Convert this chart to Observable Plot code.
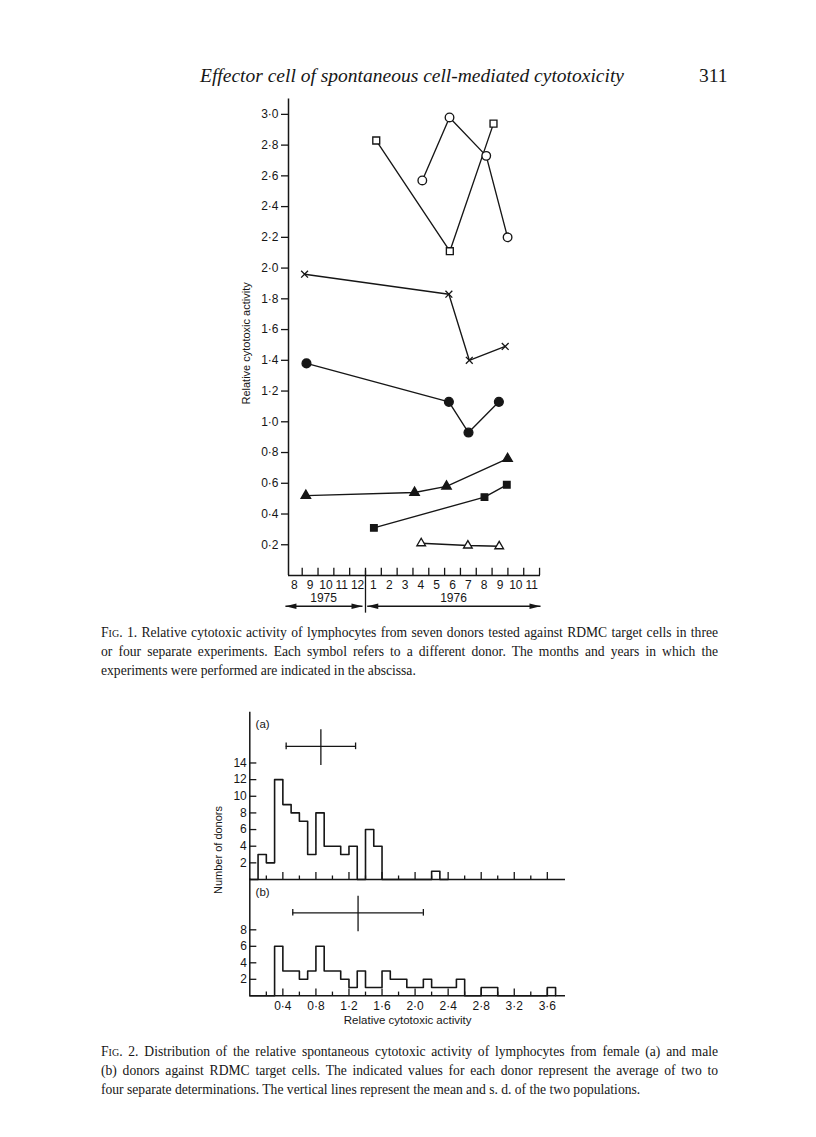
<!DOCTYPE html>
<html><head><meta charset="utf-8">
<script src="https://cdn.jsdelivr.net/npm/d3@7"></script>
<script src="https://cdn.jsdelivr.net/npm/@observablehq/plot@0.6"></script>
<style>
body{margin:0;background:#fff;}
#page{position:relative;width:816px;height:1137px;background:#fff;overflow:hidden;font-family:"Liberation Serif",serif;color:#161616;}
.abs{position:absolute;}
.cap{position:absolute;left:101px;width:617px;font-size:13.6px;line-height:19px;}
.cap .j{text-align:justify;text-align-last:justify;}
.sc{font-variant:small-caps;}
.fig{position:absolute;}
.ylab{position:absolute;font-family:"Liberation Sans",sans-serif;font-size:11px;transform:translate(-50%,-50%) rotate(-90deg);white-space:nowrap;}
</style></head>
<body><div id="page">
<div class="abs" style="left:200px;top:65px;font-size:19.5px;font-style:italic;white-space:nowrap;">Effector cell of spontaneous cell-mediated cytotoxicity</div>
<div class="abs" style="left:699px;top:65px;font-size:19.5px;">311</div>
<div id="fig1" class="fig" style="left:200px;top:90px;"></div>
<div class="cap" style="top:623px;">
<div class="j"><span class="sc">Fig</span>. 1. Relative cytotoxic activity of lymphocytes from seven donors tested against RDMC target cells in three</div>
<div class="j">or four separate experiments. Each symbol refers to a different donor. The months and years in which the</div>
<div>experiments were performed are indicated in the abscissa.</div>
</div>
<div id="fig2a" class="fig" style="left:200px;top:700px;"></div>
<div id="fig2b" class="fig" style="left:200px;top:870px;"></div>
<div class="ylab" style="left:218px;top:850px;">Number of donors</div>
<div class="cap" style="top:1042px;">
<div class="j"><span class="sc">Fig</span>. 2. Distribution of the relative spontaneous cytotoxic activity of lymphocytes from female (a) and male</div>
<div class="j">(b) donors against RDMC target cells. The indicated values for each donor represent the average of two to</div>
<div>four separate determinations. The vertical lines represent the mean and s. d. of the two populations.</div>
</div>
</div>
<script>
// ---------- Fig. 1 data (x = month index: 8 = Aug 1975, 13 = Jan 1976, 23 = Nov 1976) ----------
const openSquareX = [13.18, 17.83, 20.59];
const openSquareY = [2.83, 2.11, 2.94];
const openCircleX = [16.09, 17.81, 20.13, 21.48];
const openCircleY = [2.57, 2.98, 2.73, 2.20];
const crossX = [8.65, 17.77, 19.06, 21.33];
const crossY = [1.96, 1.83, 1.40, 1.49];
const filledCircleX = [8.77, 17.77, 19.01, 20.93];
const filledCircleY = [1.38, 1.13, 0.93, 1.13];
const filledTriangleX = [8.73, 15.60, 17.62, 21.48];
const filledTriangleY = [0.52, 0.54, 0.58, 0.76];
const filledSquareX = [13.03, 20.02, 21.43];
const filledSquareY = [0.31, 0.51, 0.59];
const openTriangleX = [16.02, 18.97, 20.95];
const openTriangleY = [0.21, 0.195, 0.19];

const monthPositions = [8,9,10,11,12,13,14,15,16,17,18,19,20,21,22,23];
const monthLabels = ["8","9","10","11","12","1","2","3","4","5","6","7","8","9","10","11"];
const yTicks1 = [0.2,0.4,0.6,0.8,1.0,1.2,1.4,1.6,1.8,2.0,2.2,2.4,2.6,2.8,3.0];
const yearNames = ["1975","1976"];
const yearCenters = [9.85, 18.06];
const yearStart = [7.44, 12.61];
const yearEnd = [12.31, 23.56];

// ---------- Fig. 2 data (counts per 0.1-wide bin starting at 0.0) ----------
const femaleCounts = [0,3,2,12,9,8,7,3,8,4,4,3,4,0,6,4,0,0,0,0,0,0,1,0];
const maleCounts = [0,0,0,6,3,3,2,3,6,3,3,2,1,3,1,1,3,2,2,1,1,2,1,1,1,2,0,0,1,1,0,0,0,0,0,0,1];
const femaleMean = 0.86, femaleSD = 0.42;
const maleMean = 1.31, maleSD = 0.79;
const yTicksA = [2,4,6,8,10,12,14];
const yTicksB = [2,4,6,8];
const xLabelTicks2 = [0.4,0.8,1.2,1.6,2.0,2.4,2.8,3.2,3.6];
const xMinorTicks2 = [0.2,0.4,0.6,0.8,1.0,1.2,1.4,1.6,1.8,2.0,2.2,2.4,2.6,2.8,3.0,3.2,3.4,3.6];

const fmt = d => d.toFixed(1).replace(".", "·");
const ink = "#161616";
const style = {background: "transparent", fontFamily: "Liberation Sans, sans-serif", fontSize: "11.5px", overflow: "visible", color: ink};

const zip = (xs, ys) => xs.map((x, i) => ({x, y: ys[i]}));

const arrowHead = {draw(ctx) { ctx.moveTo(0, 0); ctx.lineTo(-11, -2.8); ctx.lineTo(-11, 2.8); ctx.closePath(); }};

function series(xs, ys, symbol, fill, r) {
  const d = zip(xs, ys);
  return [
    Plot.line(d, {x: "x", y: "y", stroke: ink, strokeWidth: 1.35}),
    Plot.dot(d, {x: "x", y: "y", symbol, fill, stroke: ink, strokeWidth: 1.35, r})
  ];
}

const xMin1 = 7.634, xMax1 = 23.56;
const boundaries = monthPositions.map(m => m + 0.5);
const fig1 = Plot.plot({
  width: 360, height: 540,
  marginLeft: 88, marginRight: 20, marginTop: 8.5, marginBottom: 55,
  x: {domain: [xMin1, xMax1]},
  y: {domain: [0, 3.1]},
  style,
  marks: [
    Plot.ruleX([xMin1], {stroke: ink, strokeWidth: 1.5}),
    Plot.ruleY([0], {stroke: ink, strokeWidth: 1.5}),
    Plot.axisY({ticks: yTicks1, tickFormat: fmt, tickSize: 7, tickPadding: 3, label: null, strokeWidth: 1.3, fontSize: 12}),
    Plot.axisX({ticks: monthPositions, tickFormat: (d, i) => monthLabels[i], tickSize: 0, tickPadding: 5, label: null, fontSize: 12}),
    Plot.ruleX(boundaries, {y1: 0, y2: 0.047, stroke: ink, strokeWidth: 1.3}),
    Plot.ruleX([12.5], {y1: 0.03, y2: -0.245, stroke: ink, strokeWidth: 1.3}),
    Plot.text(yearNames, {x: (d, i) => yearCenters[i], y: -0.15, text: d => d, fontSize: 12}),
    Plot.link(yearNames, {x1: (d, i) => yearStart[i], x2: (d, i) => yearEnd[i], y1: -0.2, y2: -0.2, stroke: ink, strokeWidth: 1.3}),
    Plot.dot(yearNames, {x: (d, i) => yearStart[i], y: -0.2, symbol: arrowHead, rotate: 180, fill: ink, stroke: "none"}),
    Plot.dot(yearNames, {x: (d, i) => yearEnd[i], y: -0.2, symbol: arrowHead, fill: ink, stroke: "none"}),
    Plot.text(["Relative cytotoxic activity"], {x: () => xMin1, y: () => 1.51, rotate: -90, dx: -42, fontSize: 11}),
    ...series(openSquareX, openSquareY, "square", "white", 3.9),
    ...series(openCircleX, openCircleY, "circle", "white", 4.3),
    ...series(crossX, crossY, "times", "none", 3.2),
    ...series(filledCircleX, filledCircleY, "circle", ink, 4.4),
    ...series(filledTriangleX, filledTriangleY, "triangle", ink, 3.5),
    ...series(filledSquareX, filledSquareY, "square", ink, 3.7),
    ...series(openTriangleX, openTriangleY, "triangle", "white", 3.2)
  ]
});
document.getElementById("fig1").append(fig1);

function steps(counts) {
  const pts = counts.map((c, i) => ({x: i * 0.1, y: c}));
  pts.push({x: counts.length * 0.1, y: 0});
  return pts;
}

const xMax2 = 3.82;
function panel({counts, mean, sd, yTop, barY, label, labelY, yTicks, height, marginTop, marginBottom, bottomAxis, tall, short}) {
  const marks = [
    Plot.ruleX([0], {stroke: ink, strokeWidth: 1.5}),
    Plot.ruleY([0], {stroke: ink, strokeWidth: 1.5}),
    Plot.axisY({ticks: yTicks, tickSize: 0, tickPadding: 3, label: null, fontSize: 12}),
    Plot.ruleY(yTicks, {x1: 0, x2: 0.085, stroke: ink, strokeWidth: 1.3}),
    Plot.ruleX(xMinorTicks2, {y1: 0, y2: d => (Math.round(d * 10) % 4 === 0 ? tall : short), stroke: ink, strokeWidth: 1.3}),
    Plot.line(steps(counts), {x: "x", y: "y", curve: "step-after", stroke: ink, strokeWidth: 1.6}),
    Plot.ruleY([barY], {x1: mean - sd, x2: mean + sd, stroke: ink, strokeWidth: 1.3}),
    Plot.ruleX([mean - sd, mean + sd], {y1: barY - 0.4, y2: barY + 0.4, stroke: ink, strokeWidth: 1.3}),
    Plot.ruleX([mean], {y1: barY - 2.3, y2: barY + 2.0, stroke: ink, strokeWidth: 1.3}),
    Plot.text([label], {x: 0.07, y: labelY, textAnchor: "start", fontSize: 11.5, letterSpacing: "1.5px"})
  ];
  if (bottomAxis) {
    marks.push(Plot.axisX({ticks: xLabelTicks2, tickFormat: fmt, tickSize: 0, tickPadding: 6, label: null, fontSize: 12}));
    marks.push(Plot.text(["Relative cytotoxic activity"], {frameAnchor: "bottom", dy: 28, fontSize: 11.5}));
  }
  return Plot.plot({
    width: 380, height, marginLeft: 49.3, marginRight: 15, marginTop, marginBottom,
    x: {domain: [0, xMax2], axis: bottomAxis ? undefined : null},
    y: {domain: [0, yTop]},
    style,
    marks
  });
}

document.getElementById("fig2a").append(panel({
  counts: femaleCounts, mean: femaleMean, sd: femaleSD, yTop: 20.1, barY: 16.0,
  label: "(a)", labelY: 18.7, yTicks: yTicksA, height: 179, marginTop: 11.7, marginBottom: 0,
  bottomAxis: false, tall: 0.84, short: 0.42
}));
document.getElementById("fig2b").append(panel({
  counts: maleCounts, mean: maleMean, sd: maleSD, yTop: 14.16, barY: 10.06,
  label: "(b)", labelY: 12.5, yTicks: yTicksB, height: 165.3, marginTop: 8.5, marginBottom: 40,
  bottomAxis: true, tall: 0.81, short: 0.45
}));
</script>
</body></html>
